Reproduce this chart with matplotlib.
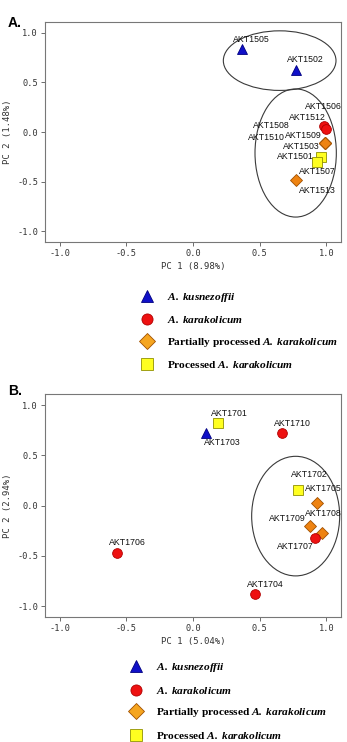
import matplotlib
matplotlib.use("Agg")
import matplotlib.pyplot as plt
from matplotlib.patches import Ellipse
from matplotlib.lines import Line2D

plt.rcParams['mathtext.fontset'] = 'custom'
plt.rcParams['mathtext.rm'] = 'Liberation Serif'
plt.rcParams['mathtext.bfit'] = 'Liberation Serif:bold:italic'
plt.rcParams['mathtext.bf'] = 'Liberation Serif:bold'

# ---- panel A data ----
a_names = ["AKT1505", "AKT1502", "AKT1506", "AKT1512", "AKT1508", "AKT1509",
           "AKT1510", "AKT1503", "AKT1501", "AKT1507", "AKT1513"]
a_group = ["kus", "kus", "kar", "kar", "part", "part", "part", "part", "proc", "proc", "part"]
a_x = [0.37, 0.77, 0.98, 1.00, 0.99, 0.99, 0.99, 0.99, 0.96, 0.93, 0.77]
a_y = [0.835, 0.63, 0.06, 0.03, -0.11, -0.11, -0.11, -0.11, -0.25, -0.30, -0.485]
a_lab_x = [0.44, 0.84, 0.98, 0.857, 0.59, 0.825, 0.55, 0.81, 0.77, 0.935, 0.935]
a_lab_y = [0.93, 0.73, 0.26, 0.15, 0.07, -0.03, -0.05, -0.14, -0.25, -0.40, -0.585]
a_ell = [(0.65, 0.72, 0.845, 0.60), (0.77, -0.21, 0.61, 1.29)]

# ---- panel B data ----
b_names = ["AKT1701", "AKT1703", "AKT1710", "AKT1702", "AKT1705", "AKT1709",
           "AKT1708", "AKT1707", "AKT1706", "AKT1704"]
b_group = ["proc", "kus", "kar", "proc", "part", "part", "part", "kar", "kar", "kar"]
b_x = [0.19, 0.10, 0.665, 0.79, 0.93, 0.877, 0.965, 0.915, -0.57, 0.464]
b_y = [0.82, 0.72, 0.72, 0.15, 0.03, -0.20, -0.27, -0.32, -0.475, -0.88]
b_lab_x = [0.27, 0.22, 0.745, 0.87, 0.98, 0.71, 0.98, 0.77, -0.49, 0.545]
b_lab_y = [0.92, 0.63, 0.82, 0.305, 0.165, -0.125, -0.08, -0.405, -0.37, -0.785]
b_ell = [(0.77, -0.105, 0.66, 1.19)]

ticks = [-1.0, -0.5, 0.0, 0.5, 1.0]

styles = {
    "kus": dict(marker="^", color="#1010c8", edge="#000080", size=6.5),
    "kar": dict(marker="o", color="#ee1111", edge="#b00000", size=7),
    "part": dict(marker="D", color="#ee8312", edge="#a05000", size=6.5),
    "proc": dict(marker="s", color="#ffff20", edge="#909000", size=7),
}
legend_labels = [r"$\mathbfit{A.\,kusnezoffii}$",
                 r"$\mathbfit{A.\,karakolicum}$",
                 r"Partially processed $\mathbfit{A.\,karakolicum}$",
                 r"Processed $\mathbfit{A.\,karakolicum}$"]
legend_keys = ["kus", "kar", "part", "proc"]
legend_fill = {"kus": "#1010c8", "kar": "#ee1111", "part": "#f5a520", "proc": "#ffff20"}

mono = "DejaVu Sans Mono"


def draw_panel(ax, names, groups, xs, ys, lx, ly, ells, xlabel, ylabel):
    for e in ells:
        ax.add_patch(Ellipse((e[0], e[1]), e[2], e[3], fill=False,
                             edgecolor="#3a3a3a", lw=0.8))
    for i in range(len(names)):
        st = styles[groups[i]]
        ax.plot(xs[i], ys[i], marker=st["marker"], ms=st["size"], color=st["color"],
                mec=st["edge"], mew=0.6, ls="none", zorder=3)
        ax.text(lx[i], ly[i], names[i], ha="center", va="center", fontsize=6.3,
                family="Liberation Sans", color="#111111", zorder=4)
    ax.set_xlim(-1.11, 1.11)
    ax.set_ylim(-1.105, 1.11)
    ax.set_xticks(ticks)
    ax.set_yticks(ticks)
    ax.set_xticklabels(["%.1f" % t for t in ticks], family=mono, fontsize=6.2, color="#333333")
    ax.set_yticklabels(["%.1f" % t for t in ticks], family=mono, fontsize=6.2, color="#333333")
    ax.tick_params(length=3, width=0.6, color="#555555", pad=2)
    for s in ax.spines.values():
        s.set_color("#777777")
        s.set_linewidth(0.8)
    ax.set_xlabel(xlabel, family=mono, fontsize=6.5, color="#333333", labelpad=3)
    ax.set_ylabel(ylabel, family=mono, fontsize=6.5, color="#333333", labelpad=4)


def draw_legend(fig, x, y):
    handles = []
    for k in legend_keys:
        st = styles[k]
        handles.append(Line2D([], [], marker=st["marker"], ls="none", ms=8,
                              markerfacecolor=legend_fill[k], markeredgecolor=st["edge"], mew=0.6))
    fig.legend(handles, legend_labels, loc="upper left", bbox_to_anchor=(x, y),
               frameon=False, prop={"family": "Liberation Serif", "weight": "bold", "size": 8.2},
               labelspacing=0.92, handletextpad=1.1, handlelength=1.2, borderaxespad=0)


fig = plt.figure(figsize=(3.47, 7.42), dpi=100)

axA = fig.add_axes([0.1297, 0.674, 0.853, 0.2965])
draw_panel(axA, a_names, a_group, a_x, a_y, a_lab_x, a_lab_y, a_ell,
           "PC 1 (8.98%)", "PC 2 (1.48%)")
axB = fig.add_axes([0.1297, 0.169, 0.853, 0.300])
draw_panel(axB, b_names, b_group, b_x, b_y, b_lab_x, b_lab_y, b_ell,
           "PC 1 (5.04%)", "PC 2 (2.94%)")

fig.text(0.023, 0.969, "A.", fontsize=10, family="Liberation Sans", weight="bold", va="center")
fig.text(0.023, 0.4734, "B.", fontsize=10, family="Liberation Sans", weight="bold", va="center")

draw_legend(fig, 0.392, 0.614)
draw_legend(fig, 0.36, 0.115)

fig.savefig("out.png", dpi=100)
